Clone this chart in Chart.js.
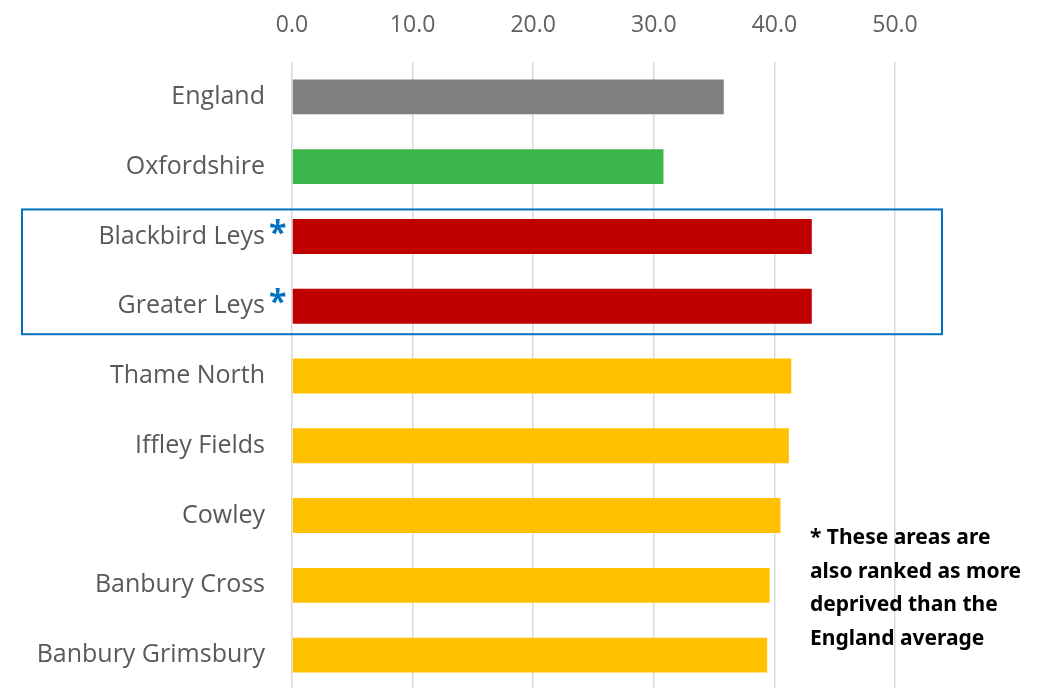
<!DOCTYPE html>
<html>
<head>
<meta charset="utf-8">
<script src="https://cdn.jsdelivr.net/npm/chart.js@4.4.1/dist/chart.umd.min.js"></script>
<style>
  html, body { margin: 0; padding: 0; background: #fff; overflow: hidden; }
  #wrap { position: relative; width: 1044px; height: 688px; overflow: hidden; }
  #note {
    position: absolute; left: 810px; top: 520px;
    font-family: "Noto Sans", sans-serif; font-weight: 700; font-size: 21px;
    line-height: 33.5px; color: #000;
  }
</style>
</head>
<body>
<div id="wrap">
  <canvas id="chart" width="1044" height="690"></canvas>
  <div id="note">* These areas are<br>also ranked as more<br>deprived than the<br>England average</div>
</div>
<script>
const categories = ['England', 'Oxfordshire', 'Blackbird Leys', 'Greater Leys', 'Thame North',
  'Iffley Fields', 'Cowley', 'Banbury Cross', 'Banbury Grimsbury'];
const values = [35.8, 30.8, 43.1, 43.1, 41.4, 41.2, 40.5, 39.6, 39.4];
const barColours = ['#7f7f7f', '#3cb54a', '#c00000', '#c00000', '#ffc000',
  '#ffc000', '#ffc000', '#ffc000', '#ffc000'];
const starred = [false, false, true, true, false, false, false, false, false];
const xTicks = [0, 10, 20, 30, 40, 50];

const labelFont = { family: '"Open Sans", sans-serif', size: 25 };
const labelPad = 27;

// asterisks next to the highlighted areas, plus the blue box round them
const extras = {
  id: 'extras',
  afterDraw(chart) {
    const ctx = chart.ctx;
    const x = chart.scales.x;
    const y = chart.scales.y;
    const labelRight = y.right - labelPad;

    ctx.save();
    ctx.fillStyle = '#0070c0';
    ctx.font = 'bold 32px "Open Sans", sans-serif';
    ctx.textAlign = 'left';
    ctx.textBaseline = 'middle';
    const idx = [];
    starred.forEach((s, i) => {
      if (!s) return;
      idx.push(i);
      ctx.fillText('*', labelRight + 4, y.getPixelForValue(i) - 2);
    });

    if (idx.length) {
      const top = y.getPixelForValue(idx[0]) - 27;
      const bottom = y.getPixelForValue(idx[idx.length - 1]) + 28;
      const left = 22;
      const right = x.getPixelForValue(50) + 47;
      ctx.strokeStyle = '#0070c0';
      ctx.lineWidth = 2;
      ctx.strokeRect(left, top, right - left, bottom - top);
    }
    ctx.restore();
  }
};

new Chart(document.getElementById('chart').getContext('2d'), {
  type: 'bar',
  data: {
    labels: categories,
    datasets: [{
      data: values,
      backgroundColor: barColours,
      barPercentage: 0.5,
      categoryPercentage: 1
    }]
  },
  options: {
    indexAxis: 'y',
    responsive: false,
    animation: false,
    layout: { padding: { left: 0, right: 149, top: 0, bottom: 0 } },
    plugins: { legend: { display: false }, tooltip: { enabled: false } },
    scales: {
      x: {
        position: 'top',
        min: 0,
        max: 50,
        afterFit(scale) { scale.height = 62; },
        afterBuildTicks(scale) { scale.ticks = xTicks.map(v => ({ value: v })); },
        grid: { color: '#d9d9d9', lineWidth: 1.5, drawTicks: false },
        border: { display: false },
        ticks: {
          padding: 23,
          color: '#606060',
          font: { family: '"Open Sans", sans-serif', size: 23 },
          callback: v => Number(v).toFixed(1)
        }
      },
      y: {
        afterFit(scale) {
          scale.width = 292;
          scale.paddingTop = 0;
          scale.paddingBottom = 0;
        },
        grid: { display: false, drawTicks: false },
        border: { display: false },
        ticks: { padding: labelPad, color: '#595959', font: labelFont }
      }
    }
  },
  plugins: [extras]
});
</script>
</body>
</html>
